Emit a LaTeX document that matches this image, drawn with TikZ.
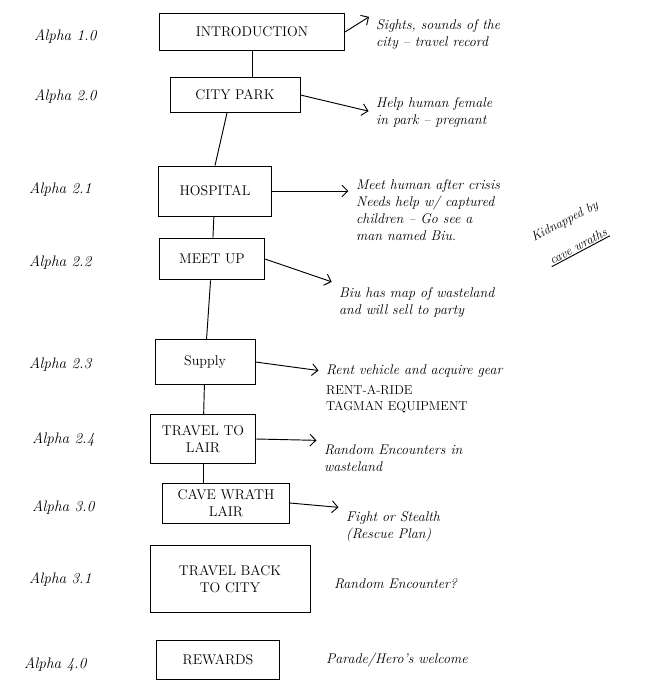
\documentclass[tikz,border=0pt]{standalone}
\usetikzlibrary{arrows.meta, positioning, calc}

\begin{document}
\begin{tikzpicture}[
        x=0.03cm, y=-0.03cm,
        stage/.style={rectangle, draw=black, line width=0.8pt, align=center, inner sep=2pt, font=\fontsize{12}{14}\selectfont},
        tag/.style={anchor=west, font=\fontsize{13}{15}\selectfont\itshape},
        note/.style={anchor=west, align=left, font=\fontsize{12}{14.5}\selectfont\itshape},
        aside/.style={rotate=28, inner sep=1pt, font=\fontsize{11}{13}\selectfont\itshape},
        flow/.style={-{Straight Barb[length=5pt]}, line width=0.8pt, shorten >=3pt},
        link/.style={line width=0.8pt}
    ]
        \useasboundingbox (0,0) rectangle (644,681);

        \node[stage, minimum width=5.55cm, minimum height=1.1cm] (intro) at (252,32) {INTRODUCTION};
        \node[stage, minimum width=3.9cm, minimum height=1.05cm] (park) at (235,95) {CITY PARK};
        \node[stage, minimum width=3.4cm, minimum height=1.5cm] (hospital) at (215,191) {HOSPITAL};
        \node[stage, minimum width=3.15cm, minimum height=1.25cm] (meetup) at (212,259) {MEET UP};
        \node[stage, minimum width=3.0cm, minimum height=1.35cm] (supply) at (205,362) {Supply};
        \node[stage, minimum width=3.15cm, minimum height=1.45cm] (travel) at (203,439) {TRAVEL TO\\LAIR};
        \node[stage, minimum width=3.8cm, minimum height=1.2cm] (cave) at (226,503) {CAVE WRATH\\LAIR};
        \node[stage, minimum width=4.8cm, minimum height=2.0cm] (back) at (230,579) {TRAVEL BACK\\TO CITY};
        \node[stage, minimum width=3.7cm, minimum height=1.15cm] (rewards) at (218,660) {REWARDS};

        \node[tag] (a10) at (30,37) {Alpha 1.0};
        \node[tag] (a20) at (30,97) {Alpha 2.0};
        \node[tag] (a21) at (25,190) {Alpha 2.1};
        \node[tag] (a22) at (25,263) {Alpha 2.2};
        \node[tag] (a23) at (25,365) {Alpha 2.3};
        \node[tag] (a24) at (28,440) {Alpha 2.4};
        \node[tag] (a30) at (28,508) {Alpha 3.0};
        \node[tag] (a31) at (25,580) {Alpha 3.1};
        \node[tag] (a40) at (20,665) {Alpha 4.0};

        \node[note] (sights) at (372,34) {Sights, sounds of the\\city -- travel record};
        \node[note] (help) at (372,112) {Help human female\\in park -- pregnant};
        \node[note] (meet) at (352,210) {Meet human after crisis\\Needs help w/ captured\\children -- Go see a\\man named Biu.};
        \node[aside] (kidnap) at (565,222) {Kidnapped by};
        \node[aside] (wraths) at (578,246) {cave wraths};
        \node[note] (biu) at (335,302) {Biu has map of wasteland\\and will sell to party};
        \node[note] (rent) at (322,371) {Rent vehicle and acquire gear};
        \node[note, font=\fontsize{11}{13}\selectfont, below=0pt of rent.south west, anchor=north west] (shops) {RENT-A-RIDE\\TAGMAN EQUIPMENT};
        \node[note] (random) at (320,458) {Random Encounters in\\wasteland};
        \node[note] (fight) at (342,527) {Fight or Stealth\\(Rescue Plan)};
        \node[note] (encounter) at (330,584) {Random Encounter?};
        \node[note] (parade) at (322,660) {Parade/Hero's welcome};

        \draw[link] (intro.south) -- (intro.south |- park.north);
        \draw[link] (park.south) ++(-8,0) -- (hospital.north);
        \draw[link] (hospital) -- (meetup);
        \draw[link] (meetup) -- (supply);
        \draw[link] (supply) -- (travel);
        \draw[link] (travel) -- (travel |- cave.north);
        \draw[link] (wraths.south west) -- (wraths.south east);

        \draw[flow] (intro.east) -- (sights.north west);
        \draw[flow] (park.east) -- (help.west);
        \draw[flow] (hospital.east) -- (meet.west |- hospital.east);
        \draw[flow] (meetup.east) -- (biu.north west);
        \draw[flow] (supply.east) -- (rent.west);
        \draw[flow] (travel.east) -- (random.north west);
        \draw[flow] (cave.east) -- (fight.north west);
\end{tikzpicture}
\end{document}
